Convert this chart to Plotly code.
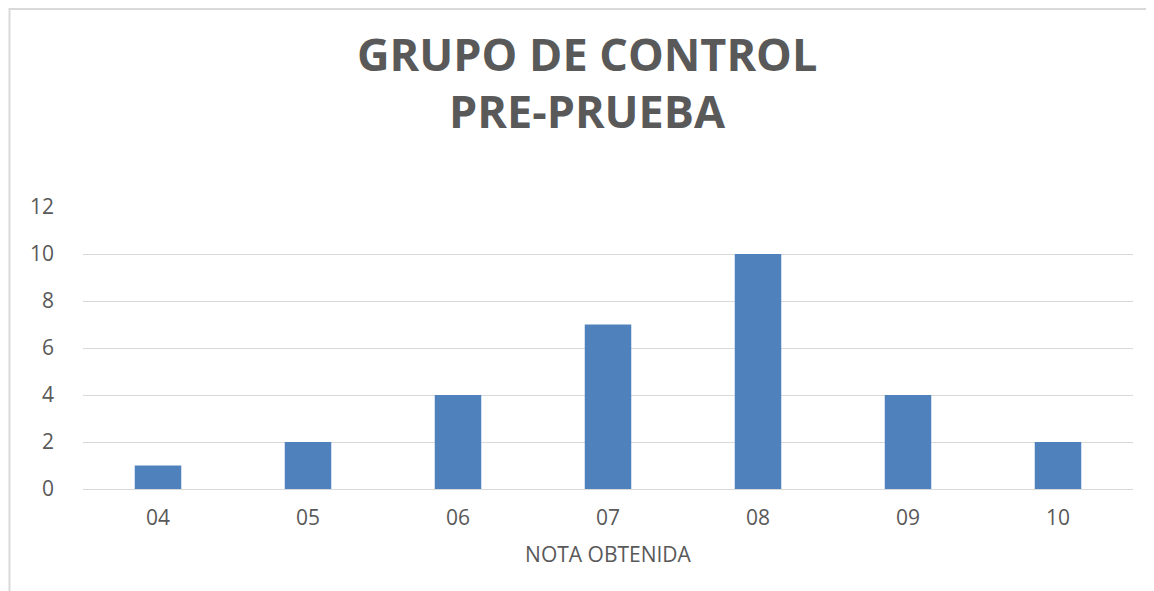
import plotly.graph_objects as go

categorias = ["04", "05", "06", "07", "08", "09", "10"]
frecuencias = [1, 2, 4, 7, 10, 4, 2]
y_ticks = [0, 2, 4, 6, 8, 10, 12]
titulo = ["GRUPO DE CONTROL", "PRE-PRUEBA"]

fig = go.Figure()
fig.add_trace(go.Bar(
    x=categorias, y=frecuencias,
    marker=dict(color="#4F81BD", line=dict(width=0)),
    width=0.31,
))

W, H = 1146, 583
L, R, T, B = 75, 21, 199, 102
ph = H - T - B
pw = W - L - R

def py(page_y):
    fy = page_y - 8
    return (H - B - fy) / ph

annots = []
for txt, yy in zip(titulo, [54, 110]):
    annots.append(dict(
        text="<b>" + txt + "</b>", xref="paper", yref="paper",
        x=(587 - 8 - L) / pw, y=py(yy), xanchor="center", yanchor="middle",
        showarrow=False, font=dict(family="Open Sans", size=45, color="#595959"),
    ))

fig.update_layout(
    width=W, height=H,
    paper_bgcolor="white", plot_bgcolor="white",
    margin=dict(l=L, r=R, t=T, b=B),
    showlegend=False,
    font=dict(family="Open Sans", color="#595959"),
    annotations=annots,
    shapes=[dict(type="rect", xref="paper", yref="paper",
                 x0=(1.5 - L) / pw, x1=2.0, y0=-1.0, y1=py(9),
                 line=dict(color="#D9D9D9", width=2), layer="below")],
)
fig.update_xaxes(
    type="category", showgrid=False, showline=True, linecolor="#D9D9D9", linewidth=1,
    ticks="", tickfont=dict(size=21, color="#595959"), ticklabelstandoff=10,
    title=dict(text="NOTA OBTENIDA", font=dict(size=21, color="#595959"), standoff=17),
)
fig.update_yaxes(
    range=[0, 12], tickvals=y_ticks, showgrid=True, gridcolor="#D9D9D9", gridwidth=1,
    zeroline=False, showline=False, ticks="", tickfont=dict(size=21, color="#595959"),
    ticklabelstandoff=28,
)
fig.write_html("out.html")
